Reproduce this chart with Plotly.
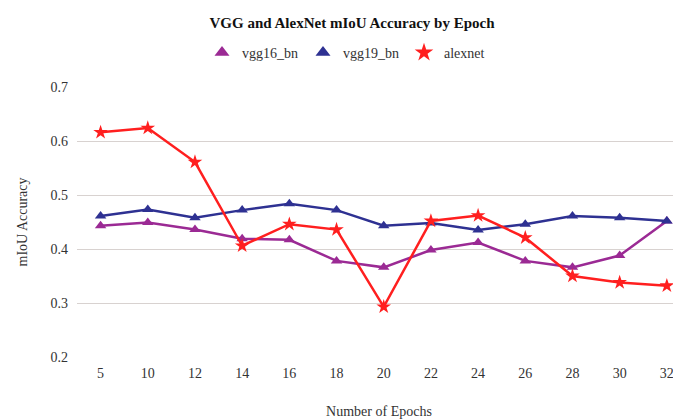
import plotly.graph_objects as go

epochs = ["5", "10", "12", "14", "16", "18", "20", "22", "24", "26", "28", "30", "32"]
vgg16_bn = [0.443, 0.449, 0.436, 0.419, 0.417, 0.378, 0.366, 0.398, 0.412, 0.378, 0.366, 0.388, 0.452]
vgg19_bn = [0.461, 0.473, 0.458, 0.472, 0.484, 0.472, 0.443, 0.448, 0.435, 0.446, 0.461, 0.458, 0.452]
alexnet = [0.616, 0.624, 0.561, 0.406, 0.446, 0.436, 0.293, 0.452, 0.462, 0.421, 0.350, 0.338, 0.332]

FONT = "Liberation Serif"
# The page body has an 8px margin, so the figure is sized to end at the window edge.
W, H = 673, 411

series = [
    ("vgg16_bn", vgg16_bn, "#9B2A94", "triangle-up", 10),
    ("vgg19_bn", vgg19_bn, "#2E3192", "triangle-up", 10),
    ("alexnet", alexnet, "#FF1F1F", "star", 11),
]

fig = go.Figure()
for name, vals, color, sym, size in series:
    fig.add_trace(go.Scatter(x=epochs, y=vals, name=name, mode="lines+markers",
                             line=dict(color=color, width=2.5),
                             marker=dict(symbol=sym, size=size, color=color),
                             showlegend=False))
    fig.add_trace(go.Scatter(x=[None], y=[None], name=name, mode="markers",
                             marker=dict(symbol=sym, size=size + 3, color=color),
                             showlegend=True))

fig.update_layout(
    width=W, height=H,
    margin=dict(l=69, r=0, t=79, b=62, autoexpand=False),
    paper_bgcolor="white", plot_bgcolor="white",
    font=dict(family=FONT, size=14, color="#333333"),
    title=dict(text="<b>VGG and AlexNet mIoU Accuracy by Epoch</b>",
               xref="container", yref="container",
               x=344 / W, xanchor="center", y=1 - 15 / H, yanchor="middle",
               font=dict(family=FONT, size=15, color="#111111")),
    legend=dict(orientation="h", xref="container", yref="container",
                x=194 / W, xanchor="left", y=1 - 45 / H, yanchor="middle",
                font=dict(family=FONT, size=14, color="#333333"),
                bgcolor="rgba(0,0,0,0)", itemwidth=30),
)
fig.update_xaxes(type="category", range=[-0.5, 12.3], showgrid=False, zeroline=False,
                 showline=False, ticks="", tickfont=dict(size=14), automargin=False,
                 ticklabelstandoff=6,
                 title=dict(text="Number of Epochs", font=dict(size=14), standoff=32))
fig.update_yaxes(range=[0.2, 0.7], dtick=0.1, tickformat=".1f", showgrid=True,
                 gridcolor="#D8D2D0", gridwidth=1.2, zeroline=False, showline=False,
                 ticks="", ticklabelstandoff=8, tickfont=dict(size=14), automargin=False,
                 title=dict(text="mIoU Accuracy", font=dict(size=14), standoff=19))

fig.write_html("out.html")
